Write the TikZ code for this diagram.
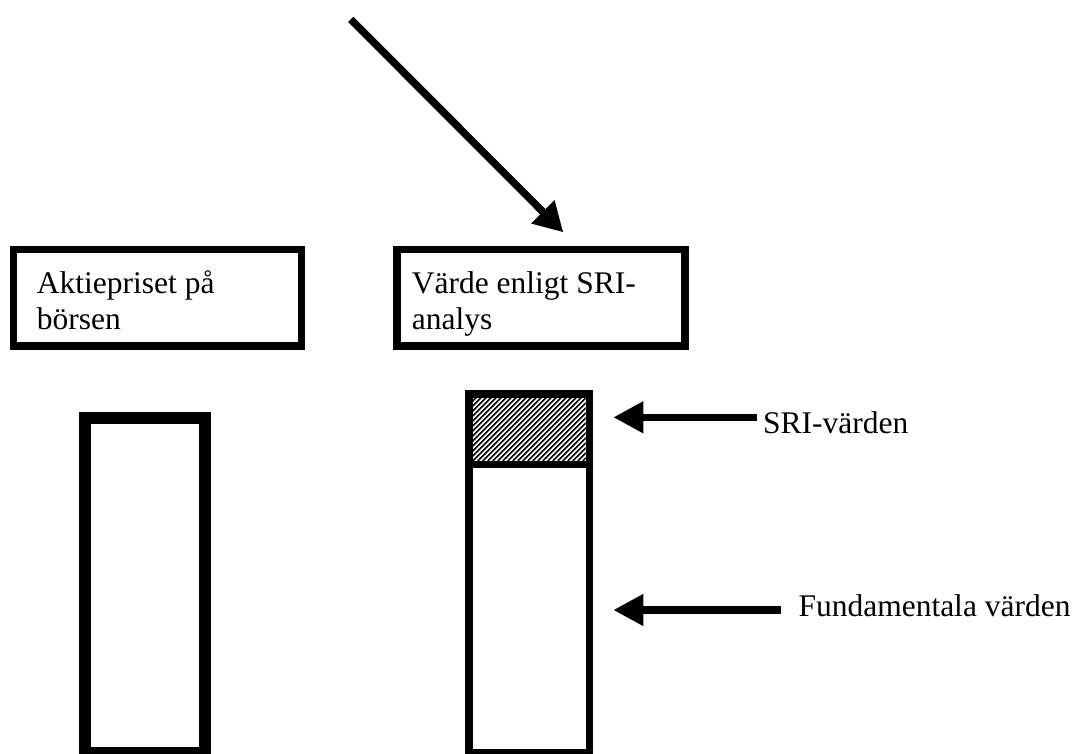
\documentclass[tikz,border=0pt]{standalone}
\usepackage{fontspec}
\setmainfont{Liberation Serif}
\usetikzlibrary{arrows.meta}
\begin{document}
\begin{tikzpicture}[x=1pt,y=-1pt,
  lbl/.style={font=\fontsize{31.5}{36}\selectfont, inner sep=0pt, align=left},
  titlebox/.style={draw, line width=7.6pt, inner sep=0pt, minimum width=288pt, minimum height=96.5pt},
  bar/.style={draw, inner sep=0pt},
  pointer/.style={line width=7.3pt, -{Triangle[length=30pt,width=30pt]}},
  hatch/.style={line width=1.6pt}]
\useasboundingbox (0,0) rectangle (1075,753);
\clip (0,0) rectangle (1075,753);

% heading boxes (text anchored at the baseline of its last line)
\node[titlebox] (pricebox) at (157.5,297.75) {};
\node[titlebox] (valuebox) at (541.2,297.75) {};
\node[lbl, anchor=base west] (pricetxt) at (36.7,329) {Aktiepriset på\\börsen};
\node[lbl, anchor=base west] (valuetxt) at (411.7,329) {Värde enligt SRI-\\analys};

% incoming arrow
\coordinate (inTail) at (350.7,19.3);
\coordinate (inTip) at (563.3,232.3);
\draw[line width=7.5pt, -{Triangle[length=29pt,width=31pt]}] (inTail) -- (inTip);

% hatched SRI share on top of the value bar
\begin{scope}
  \clip (472.8,397.8) rectangle (585.5,461);
  \foreach \i in {-80,-75,...,120}
    \draw[hatch] (472.8+\i,461) -- ++(70,-70);
\end{scope}

% bars
\node[bar, line width=12pt, minimum width=120pt, minimum height=335.3pt] (pricebar) at (145,585.35) {};
\node[bar, line width=7.8pt, minimum width=120.5pt, minimum height=359.1pt] (valuebar) at (529.15,573.45) {};
\draw[line width=7.3pt] (valuebar.west |- 0,464.7) -- (valuebar.east |- 0,464.7);

% side labels with pointers
\node[lbl, anchor=base west] (srilbl) at (763,433.3) {SRI-värden};
\coordinate (sriTail) at (757,417.3);
\coordinate (sriTip) at (613.3,417.3);
\draw[pointer] (sriTail) -- (sriTip);

\node[lbl, anchor=base west] (fundlbl) at (798.3,616.3) {Fundamentala värden};
\coordinate (fundTail) at (780.7,610);
\coordinate (fundTip) at (613.3,610);
\draw[pointer] (fundTail) -- (fundTip);
\end{tikzpicture}
\end{document}
